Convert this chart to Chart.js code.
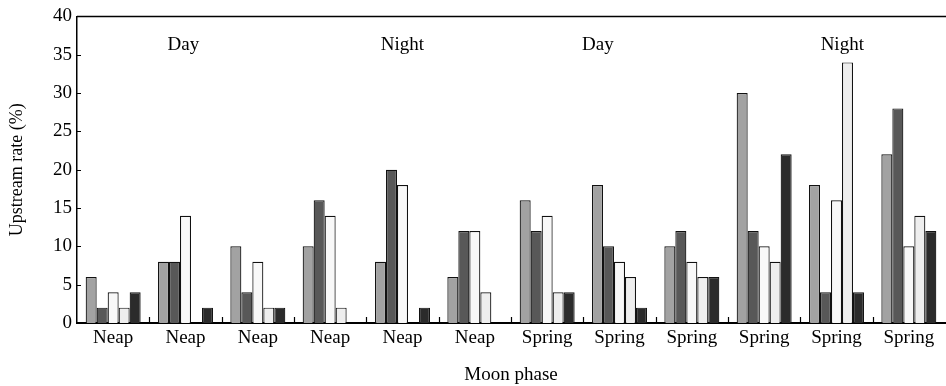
<!DOCTYPE html>
<html>
<head>
<meta charset="utf-8">
<script src="https://cdn.jsdelivr.net/npm/chart.js@4/dist/chart.umd.min.js"></script>
<style>
  html, body { margin: 0; padding: 0; background: #fff; }
  #wrap { width: 946px; height: 386px; }
</style>
</head>
<body>
<div id="wrap"><canvas id="chart"></canvas></div>
<script>
const phases = ["Neap", "Neap", "Neap", "Neap", "Neap", "Neap",
                "Spring", "Spring", "Spring", "Spring", "Spring", "Spring"];
const s1 = [6, 8, 10, 10, 8, 6, 16, 18, 10, 30, 18, 22];
const s2 = [2, 8, 4, 16, 20, 12, 12, 10, 12, 12, 4, 28];
const s3 = [4, 14, 8, 14, 18, 12, 14, 8, 8, 10, 16, 10];
const s4 = [2, 0, 2, 2, 0, 4, 4, 6, 6, 8, 34, 14];
const s5 = [4, 2, 2, 0, 2, 0, 4, 2, 6, 22, 4, 12];
const periodLabels = ["Day", "Night", "Day", "Night"];
const periodAt = [0.97, 4.0, 6.7, 10.08];
const yTicks = [0, 5, 10, 15, 20, 25, 30, 35, 40];

const fillColors = ["#a2a2a2", "#585858", "#f8f8f8", "#eeeeee", "#2b2b2b"];
const serif = "'Liberation Serif', 'Times New Roman', serif";

// frame line on top, inward tick marks, period labels
const decor = {
  id: "decor",
  afterDraw(chart) {
    const { ctx, chartArea: a, scales } = chart;
    const x = scales.x, y = scales.y;
    ctx.save();
    ctx.strokeStyle = "#000";
    ctx.lineWidth = 1.5;
    ctx.beginPath();
    ctx.moveTo(a.left, a.top);
    ctx.lineTo(946, a.top);
    ctx.stroke();
    ctx.lineWidth = 1.2;
    ctx.beginPath();
    yTicks.forEach(v => {
      const py = Math.round(y.getPixelForValue(v)) + 0.5;
      ctx.moveTo(a.left, py);
      ctx.lineTo(a.left + 4, py);
    });
    for (let i = 1; i < phases.length; i++) {
      const px = Math.round(x.getPixelForValue(i - 0.5)) + 0.5;
      ctx.moveTo(px, a.bottom);
      ctx.lineTo(px, a.bottom - 6);
    }
    ctx.stroke();
    ctx.fillStyle = "#000";
    ctx.font = "19px " + serif;
    ctx.textAlign = "center";
    ctx.textBaseline = "middle";
    periodLabels.forEach((t, i) => {
      ctx.fillText(t, x.getPixelForValue(periodAt[i]), y.getPixelForValue(36.3));
    });
    ctx.restore();
  }
};

const ctx = document.getElementById("chart").getContext("2d");
new Chart(ctx, {
  type: "bar",
  data: {
    labels: phases,
    datasets: [s1, s2, s3, s4, s5].map((d, i) => ({
      data: d,
      backgroundColor: fillColors[i],
      borderColor: "#111",
      borderWidth: c => (c.raw === 0 ? 0 : 1.2),
      categoryPercentage: 0.76,
      barPercentage: 1.0
    }))
  },
  options: {
    responsive: true,
    maintainAspectRatio: false,
    animation: false,
    layout: { padding: { top: 15, right: 1, left: 0, bottom: 0 } },
    plugins: { legend: { display: false }, tooltip: { enabled: false } },
    scales: {
      x: {
        grid: { display: false, drawTicks: false },
        border: { display: true, color: "#000", width: 2 },
        ticks: { color: "#000", padding: 4, font: { family: serif, size: 19 } },
        title: {
          display: true, text: "Moon phase", color: "#000",
          font: { family: serif, size: 19 }, padding: { top: 0, bottom: 0 }
        },
        afterFit(axis) { axis.height = 63; }
      },
      y: {
        min: 0, max: 40,
        grid: { display: false, drawTicks: false },
        border: { display: true, color: "#000", width: 1.5 },
        ticks: { stepSize: 5, color: "#000", padding: 5, font: { family: serif, size: 19 } },
        title: {
          display: true, text: "Upstream rate (%)", color: "#000",
          font: { family: serif, size: 18 }, padding: { top: 6, bottom: 0 }
        },
        afterFit(axis) { axis.width = 77; }
      }
    }
  },
  plugins: [decor]
});
</script>
</body>
</html>
